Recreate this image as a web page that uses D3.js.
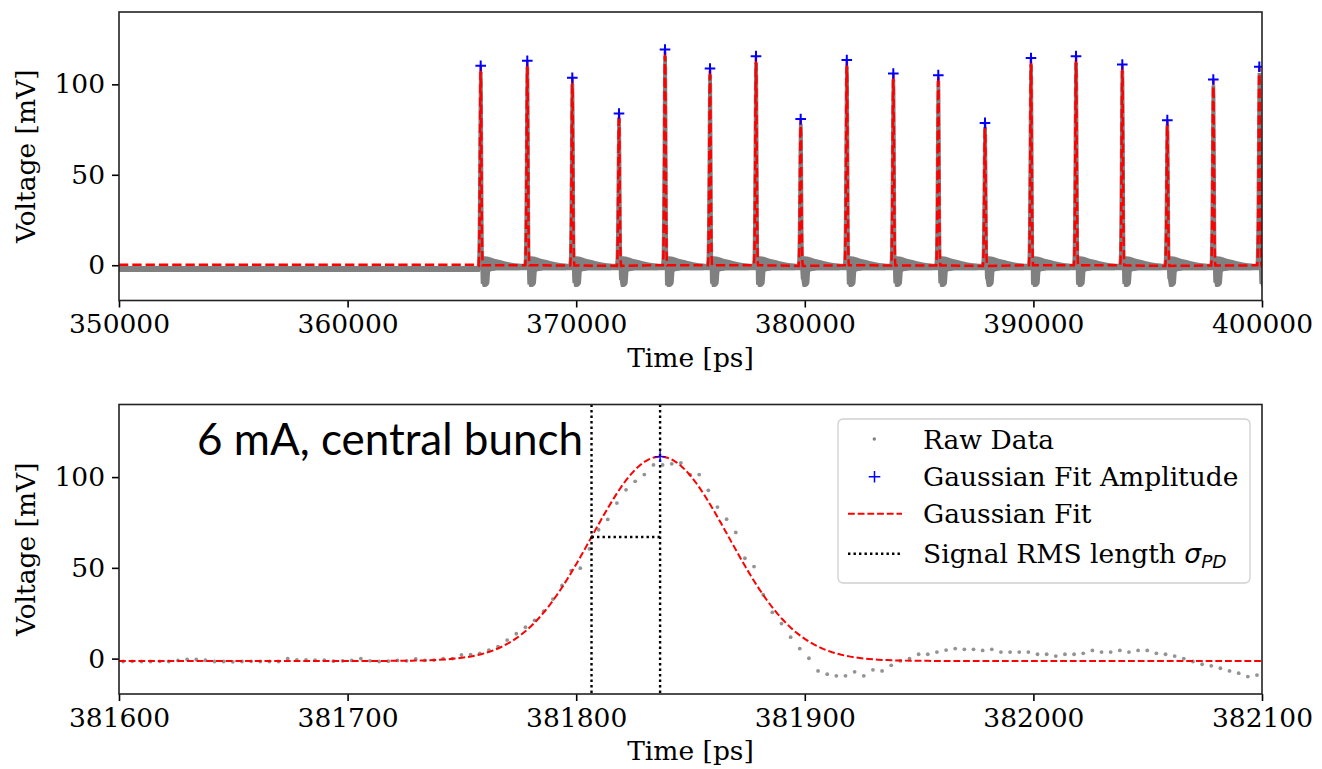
<!DOCTYPE html>
<html>
<head>
<meta charset="utf-8">
<script src="https://cdn.jsdelivr.net/npm/d3@7"></script>
<style>
body { margin: 0; background: #fff; }
text { font-family: 'DejaVu Serif', serif; fill: #000; }
</style>
</head>
<body>
<svg id="chart" width="1322" height="769"></svg>
<script>
// ---- data ----
// top panel: bunch peak times [ps] and gaussian fit amplitudes [mV]
bunchT = [365822, 367861, 369830, 371872, 373885, 375853, 377865, 379820, 381837,
          383872, 385840, 387882, 389895, 391864, 393889, 395858, 397870, 399883];
bunchV = [110.3, 113.0, 103.6, 83.9, 119.3, 108.8, 115.6, 80.8, 113.4,
          106.0, 105.1, 78.7, 114.6, 115.6, 111.0, 80.2, 102.7, 109.7];

// top panel raw data: grey baseline band and the ringing tail after each bunch
bandT    = [350000, 365780, 365800, 400000];
bandHigh = [-0.4, -0.4, 0.8, 0.8];
bandLow  = [-3.7, -3.7, -2.8, -2.8];
tailOffset = [0, 40, 100, 200, 300, 380, 420, 600, 800, 1000, 1300, 1700];
tailHigh   = [3.0, 4.5, 5.0, 5.0, 4.8, 4.6, 4.4, 3.6, 3.0, 2.4, 1.5, 0.8];
tailLow    = [-3.0, -9.0, -12.0, -12.0, -11.5, -10.0, -3.5, -3.0, -2.8, -2.8, -2.8, -2.8];

// bottom panel: oscilloscope samples of the central bunch (4 ps sampling)
rawT0 = 381601.8;
rawStep = 4;
rawV = [-1.6, -1.5, -1.6, -1.6, -1.5, -1.6, -1.0, -0.4, -0.5, -0.9,
        -1.6, -1.6, -1.8, -1.6, -1.5, -1.6, -1.6, -1.6, 0.0, -0.7,
        -0.7, -0.9, -0.9, -1.4, -1.2, -1.0, 0.0, -1.2, -1.6, -1.4,
        -1.0, -1.2, -0.2, -1.0, -0.8, 0.0, 0.0,
        2.0, 2.2, 2.9, 4.7, 6.6, 10.2, 13.7, 17.3, 21.1, 26.1, 32.8, 40.3,
        48.5, 49.8, 60.5, 71.0, 76.7, 85.7, 93.0, 97.7, 101.4, 106.7,
        106.7, 107.3, 107.8, 101.4, 101.4, 92.7, 83.5, 76.8, 69.5, 55.3,
        50.7, 35.2, 25.5, 19.3, 11.8, 5.5, 0.2, -6.8, -8.6, -9.5,
        -9.5, -7.3, -9.5, -6.2, -6.8, -3.7, -1.3, 0.0, 2.4, 2.4,
        3.6, 4.7, 5.5,
        5.1, 5.1, 4.5, 5.1, 3.6, 3.6, 3.6, 3.6, 2.4, 2.4,
        1.4, 2.4, 2.4, 2.9, 4.5, 3.6, 3.6, 4.5, 3.6, 4.5,
        4.5, 2.9, 2.4, 1.4, 0.0, -1.6, -3.1, -4.0, -5.3, -6.8,
        -8.0, -9.9, -9.1];

// gaussian fit of the central bunch
fitMu = 381836.7;
fitSigma = 30;
fitAmp = 112.6;
fitOffset = -1.3;
topPreOffset = 0.2;

xTicksTop = [350000, 360000, 370000, 380000, 390000, 400000];
xTicksBot = [381600, 381700, 381800, 381900, 382000, 382100];
yTicks = [0, 50, 100];

legendLabels = ['Raw Data', 'Gaussian Fit Amplitude', 'Gaussian Fit', 'Signal RMS length '];

// ---- layout ----
svg = d3.select('#chart');
fontSize = 26.5;
left = 119; right = 1262;

xTop = d3.scaleLinear().domain([350000, 400000]).range([left, right]);
yTop = d3.scaleLinear().domain([-19.5, 140]).range([300.5, 12]);
xBot = d3.scaleLinear().domain([381600, 382100]).range([left, right]);
yBot = d3.scaleLinear().domain([-19.5, 140]).range([694, 404.5]);

function gauss(t, mu, amp, off){
	return off + (amp - off) * Math.exp(-(t - mu) * (t - mu) / (2 * fitSigma * fitSigma));
}

function makeAxes(x, y, xTicks, id){
	const [y0, y1] = y.range();
	svg.append('clipPath').attr('id', id)
		.append('rect')
			.attr('x', left).attr('y', y1)
			.attr('width', right - left).attr('height', y0 - y1);
	const gx = svg.append('g')
		.attr('transform', `translate(0,${y0})`)
		.call(d3.axisBottom(x).tickValues(xTicks).tickFormat(d3.format('d')).tickSize(7).tickPadding(7));
	const gy = svg.append('g')
		.attr('transform', `translate(${left},0)`)
		.call(d3.axisLeft(y).tickValues(yTicks).tickFormat(d3.format('d')).tickSize(7).tickPadding(7));
	[gx, gy].forEach(g => {
		g.select('.domain').remove();
		g.selectAll('line').attr('stroke', '#000').attr('stroke-width', 1.6);
		g.selectAll('text').style('font-family', "'DejaVu Serif', serif").style('font-size', fontSize + 'px').attr('fill', '#000');
	});
	svg.append('text')
		.attr('x', (left + right) / 2)
		.attr('y', y0 + 66)
		.attr('text-anchor', 'middle')
		.style('font-size', fontSize + 'px')
		.text('Time [ps]');
	svg.append('text')
		.attr('transform', `translate(35,${(y0 + y1) / 2}) rotate(-90)`)
		.attr('text-anchor', 'middle')
		.style('font-size', fontSize + 'px')
		.text('Voltage [mV]');
	return svg.append('g').attr('clip-path', `url(#${id})`);
}

function frame(y){
	const [y0, y1] = y.range();
	svg.append('rect')
		.attr('x', left).attr('y', y1)
		.attr('width', right - left).attr('height', y0 - y1)
		.attr('fill', 'none')
		.attr('stroke', '#222')
		.attr('stroke-width', 1.6);
}

// ================= top panel =================
topG = makeAxes(xTop, yTop, xTicksTop, 'clipTop');

// grey baseline band of the raw trace
bandData = bandT.map((t, i) => ({t: t, hi: bandHigh[i], lo: bandLow[i]}));
topG.append('path')
	.datum(bandData)
	.attr('fill', '#808080')
	.attr('d', d3.area().x(d => xTop(d.t)).y0(d => yTop(d.lo)).y1(d => yTop(d.hi)));

// ringing tail after every bunch
tailArea = d3.area().x(d => xTop(d.t)).y0(d => yTop(d.lo)).y1(d => yTop(d.hi)).curve(d3.curveMonotoneX);
bunchT.forEach(bt => {
	const pts = tailOffset.map((o, i) => ({t: bt + o, hi: tailHigh[i], lo: tailLow[i]}));
	topG.append('path')
		.datum(pts)
		.attr('fill', '#808080')
		.attr('d', tailArea);
});

// raw spike of every bunch, using the measured central-bunch shape
spikeLine = d3.line().x(d => xTop(d.t)).y(d => yTop(d.v));
bunchT.forEach((bt, b) => {
	const scale = bunchV[b] / (fitAmp + fitOffset);
	const pts = rawV.slice(30, 82).map((v, i) => ({
		t: rawT0 + (i + 30) * rawStep - fitMu + bt,
		v: v * scale
	}));
	topG.append('path')
		.datum(pts)
		.attr('fill', 'none')
		.attr('stroke', '#808080')
		.attr('stroke-width', 3.5)
		.attr('d', spikeLine);
});

// gaussian fits, stitched into one dashed trace
fitPts = [{t: 350000, v: topPreOffset}, {t: bunchT[0] - 120, v: topPreOffset}];
bunchT.forEach((bt, b) => {
	for(let o = -90; o <= 90; o += 5)
		fitPts.push({t: bt + o, v: gauss(bt + o, bt, bunchV[b], fitOffset)});
});
fitPts.push({t: 400000, v: fitOffset});
topG.append('path')
	.datum(fitPts)
	.attr('fill', 'none')
	.attr('stroke', 'red')
	.attr('stroke-width', 2.5)
	.attr('stroke-dasharray', '9.3,4')
	.attr('d', d3.line().x(d => xTop(d.t)).y(d => yTop(d.v)));

// fit amplitude markers
topG.selectAll('.ampTop')
	.data(bunchT)
	.join('path')
		.attr('class', 'ampTop')
		.attr('transform', (d, i) => `translate(${xTop(d)},${yTop(bunchV[i])})`)
		.attr('d', 'M-5.3,0H5.3M0,-5.3V5.3')
		.attr('stroke', 'blue')
		.attr('stroke-width', 2)
		.attr('fill', 'none');

frame(yTop);

// ================= bottom panel =================
botG = makeAxes(xBot, yBot, xTicksBot, 'clipBot');

// raw samples
botG.selectAll('.raw')
	.data(rawV)
	.join('circle')
		.attr('class', 'raw')
		.attr('cx', (d, i) => xBot(rawT0 + i * rawStep))
		.attr('cy', d => yBot(d))
		.attr('r', 1.9)
		.attr('fill', '#808080')
		.attr('opacity', 0.85);

// gaussian fit curve
botFit = d3.range(381600, 382101, 2).map(t => ({t: t, v: gauss(t, fitMu, fitAmp + fitOffset, fitOffset)}));
botG.append('path')
	.datum(botFit)
	.attr('fill', 'none')
	.attr('stroke', 'red')
	.attr('stroke-width', 2)
	.attr('stroke-dasharray', '6.8,2.9')
	.attr('d', d3.line().x(d => xBot(d.t)).y(d => yBot(d.v)));

// signal RMS length markers
sigmaT = fitMu - fitSigma;
sigmaV = gauss(sigmaT, fitMu, fitAmp + fitOffset, fitOffset);
[sigmaT, fitMu].forEach(t => {
	botG.append('line')
		.attr('x1', xBot(t)).attr('x2', xBot(t))
		.attr('y1', yBot.range()[1]).attr('y2', yBot.range()[0])
		.attr('stroke', '#000')
		.attr('stroke-width', 2.4)
		.attr('stroke-dasharray', '2.4,3.1');
});
botG.append('line')
	.attr('x1', xBot(sigmaT)).attr('x2', xBot(fitMu))
	.attr('y1', yBot(sigmaV)).attr('y2', yBot(sigmaV))
	.attr('stroke', '#000')
	.attr('stroke-width', 2.4)
	.attr('stroke-dasharray', '2.4,3.1');

// amplitude marker
botG.append('path')
	.attr('transform', `translate(${xBot(fitMu)},${yBot(fitAmp + fitOffset)})`)
	.attr('d', 'M-5.5,0H5.5M0,-5.5V5.5')
	.attr('stroke', 'blue')
	.attr('stroke-width', 1.4)
	.attr('fill', 'none');

frame(yBot);

// legend
legend = svg.append('g').attr('transform', 'translate(838,419)');
legend.append('rect')
	.attr('width', 412).attr('height', 164)
	.attr('rx', 5)
	.attr('fill', 'white').attr('fill-opacity', 0.8)
	.attr('stroke', '#d0d0d0').attr('stroke-width', 1.3);
rowY = [20, 57.7, 94.7, 134.7];
legend.append('circle').attr('cx', 36.3).attr('cy', rowY[0]).attr('r', 1.7).attr('fill', '#808080');
legend.append('path')
	.attr('transform', `translate(36.5,${rowY[1]})`)
	.attr('d', 'M-5.8,0H5.8M0,-5.8V5.8')
	.attr('stroke', 'blue').attr('stroke-width', 1.5);
legend.append('line')
	.attr('x1', 10).attr('x2', 64).attr('y1', rowY[2]).attr('y2', rowY[2])
	.attr('stroke', 'red').attr('stroke-width', 2).attr('stroke-dasharray', '6.8,2.9');
legend.append('line')
	.attr('x1', 10).attr('x2', 64).attr('y1', rowY[3]).attr('y2', rowY[3])
	.attr('stroke', '#000').attr('stroke-width', 2.4).attr('stroke-dasharray', '2.4,3.1');
legendLabels.forEach((lab, i) => {
	const t = legend.append('text')
		.attr('x', 85)
		.attr('y', rowY[i] + 9.5)
		.style('font-size', '26.5px')
		.text(lab);
	if(i == 3){
		t.append('tspan')
			.style('font-family', "'DejaVu Sans', sans-serif")
			.style('font-style', 'italic')
			.text('σ');
		t.append('tspan')
			.style('font-family', "'DejaVu Sans', sans-serif")
			.style('font-style', 'italic')
			.style('font-size', '18.5px')
			.attr('dy', 5)
			.text('PD');
	}
});

// annotation added on top of the figure
note = svg.append('text')
	.attr('x', 197)
	.attr('y', 455)
	.style('font-family', "Lato, 'Open Sans', sans-serif")
	.style('font-size', '44px')
	.text('6 mA, central bunch');
noteW = note.node().getComputedTextLength();
if(noteW > 386)
	note.attr('textLength', 386).attr('lengthAdjust', 'spacingAndGlyphs');
</script>
</body>
</html>
